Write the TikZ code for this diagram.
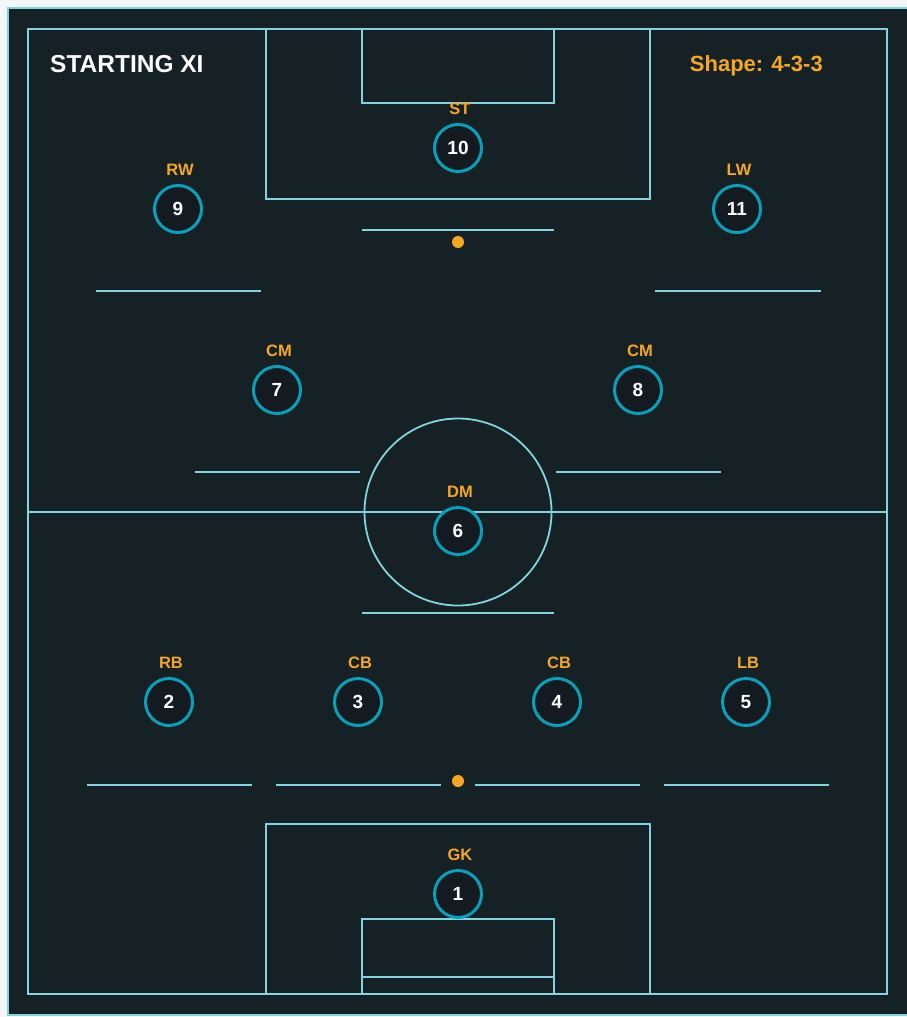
\documentclass[tikz,border=0pt]{standalone}
\usepackage{fontspec}
\setmainfont{Liberation Sans}
\usepackage{tikz}
\usetikzlibrary{positioning}
\definecolor{pagegrey}{RGB}{244,247,249}
\definecolor{pitchdark}{RGB}{21,33,37}
\definecolor{pitchline}{RGB}{128,212,222}
\definecolor{ringteal}{RGB}{8,160,186}
\definecolor{discdark}{RGB}{20,27,32}
\definecolor{roleorange}{RGB}{245,166,35}

\begin{document}
\begin{tikzpicture}[x=1pt,y=-1pt,
  every node/.style={font=\bfseries},
  pitch/.style={draw=pitchline,line width=1.8pt},
  player/.style={circle,draw=ringteal,line width=3pt,fill=discdark,text=white,minimum size=47pt,inner sep=0pt,font=\fontsize{19}{19}\selectfont\bfseries},
  role/.style={text=roleorange,inner sep=0pt,xshift=2pt,font=\fontsize{16.5}{16.5}\selectfont\bfseries},
  spot/.style={circle,fill=roleorange,minimum size=12pt,inner sep=0pt}]
\useasboundingbox (0,0) rectangle (907,1017);
\fill[pagegrey] (0,0) rectangle (907,1017);
\draw[draw=pitchline,fill=pitchdark,line width=2.5pt] (8,8) rectangle (909,1015);
% pitch
\draw[pitch] (28,29) rectangle (887,994);
\draw[pitch] (28,512) -- (887,512);
\draw[pitch] (458,512) circle (93.5);
\draw[pitch] (266,29) rectangle (650,199);
\draw[pitch] (362,29) rectangle (554,103);
\draw[pitch] (266,824) rectangle (650,994);
\draw[pitch] (362,919) rectangle (554,994);
\draw[pitch] (362,977) -- (554,977);
\node[spot] (topspot) at (458,242) {};
\node[spot] (botspot) at (458,781) {};
% line markers
\draw[pitch] (362,230) -- (554,230);
\draw[pitch] (96,291) -- (261,291);
\draw[pitch] (655,291) -- (821,291);
\draw[pitch] (195,472) -- (360,472);
\draw[pitch] (556,472) -- (721,472);
\draw[pitch] (362,613) -- (554,613);
\draw[pitch] (87,785) -- (252,785);
\draw[pitch] (276,785) -- (441,785);
\draw[pitch] (475,785) -- (640,785);
\draw[pitch] (664,785) -- (829,785);
% headers
\node[anchor=base west,inner sep=0pt,text=white,font=\fontsize{24.5}{24.5}\selectfont\bfseries] (title) at (50,72) {STARTING XI};
\node[anchor=base east,inner sep=0pt,text=roleorange,font=\fontsize{22}{22}\selectfont\bfseries] (shape) at (823,71) {Shape: 4-3-3};
% players
\node[player] (p10) at (458,148) {10};
\node[player] (p9) at (178,209) {9};
\node[player] (p11) at (737,209) {11};
\node[player] (p7) at (277,390) {7};
\node[player] (p8) at (638,390) {8};
\node[player] (p6) at (458,531) {6};
\node[player] (p2) at (169,702) {2};
\node[player] (p3) at (358,702) {3};
\node[player] (p4) at (557,702) {4};
\node[player] (p5) at (746,702) {5};
\node[player] (p1) at (458,894) {1};
\node[role,above=8pt of p10] (r10) {ST};
\node[role,above=8pt of p9] (r9) {RW};
\node[role,above=8pt of p11] (r11) {LW};
\node[role,above=8pt of p7] (r7) {CM};
\node[role,above=8pt of p8] (r8) {CM};
\node[role,above=8pt of p6] (r6) {DM};
\node[role,above=8pt of p2] (r2) {RB};
\node[role,above=8pt of p3] (r3) {CB};
\node[role,above=8pt of p4] (r4) {CB};
\node[role,above=8pt of p5] (r5) {LB};
\node[role,above=8pt of p1] (r1) {GK};
\end{tikzpicture}
\end{document}
